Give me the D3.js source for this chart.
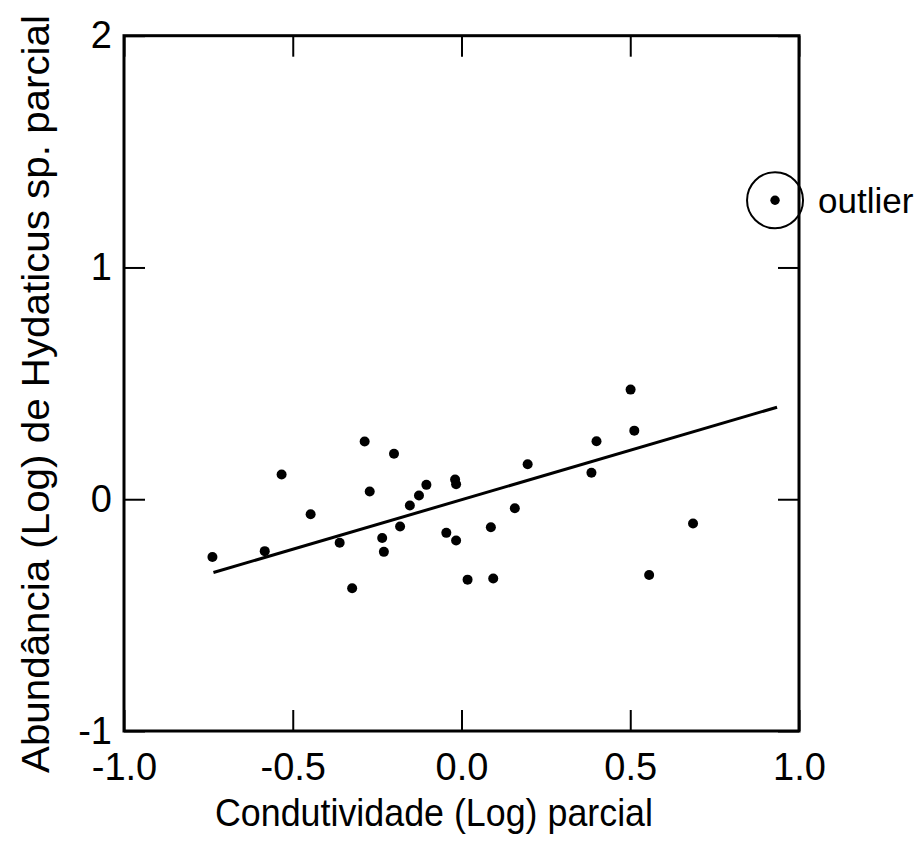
<!DOCTYPE html>
<html>
<head>
<meta charset="utf-8">
<script src="https://cdn.jsdelivr.net/npm/d3@7"></script>
<style>
body{margin:0;background:#fff}
svg{display:block}
text{font-family:"Liberation Sans",Arial,Helvetica,sans-serif;fill:#000}
</style>
</head>
<body>
<div id="chart"></div>
<script>
// valores parciais
const condutividade=[-0.738,-0.583,-0.533,-0.447,-0.361,-0.324,-0.287,-0.272,-0.235,-0.230,-0.200,-0.182,-0.153,-0.126,-0.104,-0.019,-0.016,-0.045,-0.016,0.018,0.087,0.094,0.158,0.196,0.385,0.400,0.501,0.512,0.556,0.686]
const abundancia=[-0.249,-0.224,0.107,-0.065,-0.188,-0.384,0.249,0.033,-0.167,-0.227,0.196,-0.118,-0.027,0.016,0.062,0.085,0.065,-0.145,-0.178,-0.347,-0.121,-0.342,-0.039,0.151,0.114,0.250,0.473,0.296,-0.327,-0.105]
const outlier=[0.929,1.290]
const fitX=[-0.735,0.935]
const fitY=[-0.316,0.397]
const xTicks=[-1,-0.5,0,0.5,1]
const xTickLabels=["-1.0","-0.5","0.0","0.5","1.0"]
const yTicks=[-1,0,1,2]
const yTickLabels=["-1","0","1","2"]

const width=924
const height=845

const svg=d3.select("#chart")
.append("svg")
.attr("width",width)
.attr("height",height)

const x=d3.scaleLinear().domain([-1,1]).range([124,799])
const y=d3.scaleLinear().domain([-1,2]).range([731,35.7])

const tickLen=21

function styleAxis(g){
g.select(".domain").remove()
g.selectAll(".tick line").attr("stroke","#000").attr("stroke-width",2)
g.selectAll(".tick text").style("font-size","38px")
}

svg.append("g")
.attr("transform","translate(0,"+y(-1)+")")
.call(d3.axisBottom(x).tickValues(xTicks).tickFormat((d,i)=>xTickLabels[i]).tickSizeInner(-tickLen).tickSizeOuter(0).tickPadding(22))
.call(styleAxis)

svg.append("g")
.attr("transform","translate(0,"+y(2)+")")
.call(d3.axisTop(x).tickValues(xTicks).tickFormat("").tickSizeInner(-tickLen).tickSizeOuter(0))
.call(styleAxis)

svg.append("g")
.attr("transform","translate("+x(-1)+",0)")
.call(d3.axisLeft(y).tickValues(yTicks).tickFormat((d,i)=>yTickLabels[i]).tickSizeInner(-tickLen).tickSizeOuter(0).tickPadding(12))
.call(styleAxis)

svg.append("g")
.attr("transform","translate("+x(1)+",0)")
.call(d3.axisRight(y).tickValues(yTicks).tickFormat("").tickSizeInner(-tickLen).tickSizeOuter(0))
.call(styleAxis)

// moldura
svg.append("rect")
.attr("x",x(-1))
.attr("y",y(2))
.attr("width",x(1)-x(-1))
.attr("height",y(-1)-y(2))
.attr("fill","none")
.attr("stroke","#000")
.attr("stroke-width",3)

// reta de regressao
svg.append("line")
.attr("x1",x(fitX[0]))
.attr("y1",y(fitY[0]))
.attr("x2",x(fitX[1]))
.attr("y2",y(fitY[1]))
.attr("stroke","#000")
.attr("stroke-width",3)

svg.selectAll(".pt")
.data(condutividade)
.enter()
.append("circle")
.attr("class","pt")
.attr("cx",d=>x(d))
.attr("cy",(d,i)=>y(abundancia[i]))
.attr("r",5)
.attr("fill","#000")

svg.append("circle")
.attr("cx",x(outlier[0]))
.attr("cy",y(outlier[1]))
.attr("r",4.7)
.attr("fill","#000")

svg.append("circle")
.attr("cx",x(outlier[0]))
.attr("cy",y(outlier[1]))
.attr("r",28)
.attr("fill","none")
.attr("stroke","#000")
.attr("stroke-width",2)

svg.append("text")
.attr("x",818)
.attr("y",y(outlier[1])+13)
.style("font-size","35px")
.text("outlier")

svg.append("text")
.attr("x",434)
.attr("y",826)
.attr("text-anchor","middle")
.attr("textLength",438)
.attr("lengthAdjust","spacingAndGlyphs")
.style("font-size","39px")
.text("Condutividade (Log) parcial")

svg.append("text")
.attr("transform","translate(49,394) rotate(-90)")
.attr("text-anchor","middle")
.attr("textLength",758)
.attr("lengthAdjust","spacingAndGlyphs")
.style("font-size","38.5px")
.text("Abundância (Log) de Hydaticus sp. parcial")
</script>
</body>
</html>
